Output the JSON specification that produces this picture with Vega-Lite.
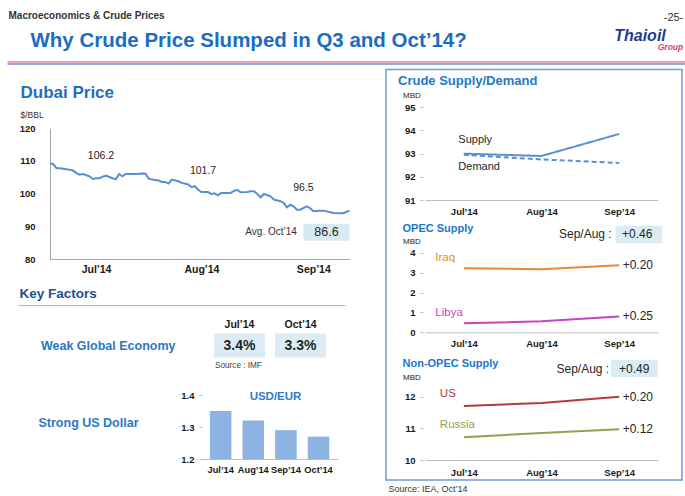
{
  "$schema": "https://vega.github.io/schema/vega-lite/v6.json",
  "width": 685,
  "height": 496,
  "autosize": "none",
  "padding": 0,
  "background": "white",
  "config": {
    "font": "Liberation Sans",
    "view": {"stroke": null},
    "axis": {"grid": false, "labelFont": "Liberation Sans", "titleFont": "Liberation Sans", "labelFlush": false, "labelOverlap": false, "titleLimit": 1000, "labelLimit": 400}
  },
  "resolve": {
    "scale": {"x": "independent", "y": "independent", "color": "independent", "strokeDash": "independent"},
    "axis": {"x": "independent", "y": "independent"}
  },
  "layer": [
    {
      "data": {"values": []},
      "mark": {"type": "point", "opacity": 0},
      "encoding": {
        "x": {"field": "hx", "type": "quantitative", "scale": {"domain": [0, 1], "range": [7, 685]},
          "axis": {"orient": "top", "offset": -61.5, "domain": true, "domainColor": "#e7a6bd", "domainWidth": 2, "labels": false, "ticks": false,
            "title": "Why Crude Price Slumped in Q3 and Oct’14?", "titleX": 30, "titleY": -21.5, "titleAlign": "left", "titleBaseline": "middle", "titleFontSize": 20.5, "titleFontWeight": "bold", "titleColor": "#1c6dc1"}},
        "y": {"field": "hy", "type": "quantitative", "scale": {"domain": [0, 1], "range": [60, 0]},
          "axis": {"orient": "left", "offset": 0, "domain": false, "labels": false, "ticks": false,
            "title": "Macroeconomics & Crude Prices", "titleAngle": 0, "titleX": 8, "titleY": 15, "titleAlign": "left", "titleBaseline": "middle", "titleFontSize": 10, "titleFontWeight": "bold", "titleColor": "#333333"}}
      }
    },
    {
      "data": {"values": []},
      "mark": {"type": "point", "opacity": 0},
      "encoding": {
        "x": {"field": "lx", "type": "quantitative", "scale": {"domain": [0, 1], "range": [7, 685]},
          "axis": {"orient": "top", "offset": -63.5, "domain": true, "domainColor": "#93acd9", "domainWidth": 2, "labels": false, "ticks": false,
            "title": "-25-", "titleX": 673, "titleY": -46.5, "titleAlign": "center", "titleBaseline": "middle", "titleFontSize": 11, "titleFontWeight": "normal", "titleColor": "#333333"}},
        "y": {"field": "ly", "type": "quantitative", "scale": {"domain": [0, 1], "range": [60, 0]},
          "axis": {"orient": "left", "offset": 0, "domain": false, "labels": false, "ticks": false,
            "title": "Thaioil", "titleAngle": 0, "titleX": 639.5, "titleY": 35, "titleAlign": "center", "titleBaseline": "middle", "titleFontSize": 16, "titleFontWeight": "bold", "titleFontStyle": "italic", "titleColor": "#1f3d8e"}}
      }
    },
    {
      "data": {"values": []},
      "mark": {"type": "point", "opacity": 0},
      "encoding": {
        "x": {"field": "kx", "type": "quantitative", "scale": {"domain": [0, 1], "range": [18, 345]},
          "axis": {"orient": "top", "offset": -305, "domain": true, "domainColor": "#a9b5c8", "domainWidth": 1, "labels": false, "ticks": false,
            "title": "Key Factors", "titleX": 19, "titleY": -12, "titleAlign": "left", "titleBaseline": "middle", "titleFontSize": 13.5, "titleFontWeight": "bold", "titleColor": "#234f8c"}},
        "y": {"field": "ky", "type": "quantitative", "scale": {"domain": [0, 1], "range": [60, 0]},
          "axis": {"orient": "left", "offset": 0, "domain": false, "labels": false, "ticks": false,
            "title": "Group", "titleAngle": 0, "titleX": 670, "titleY": 46, "titleAlign": "center", "titleBaseline": "middle", "titleFontSize": 8.5, "titleFontWeight": "bold", "titleFontStyle": "italic", "titleColor": "#d1417d"}}
      }
    },
    {
      "layer": [
        {
          "data": {"values": [
            {"date": "2014-07-01", "price": 109.3}, {"date": "2014-07-02", "price": 109.0}, {"date": "2014-07-03", "price": 107.8},
            {"date": "2014-07-04", "price": 107.8}, {"date": "2014-07-06", "price": 107.5}, {"date": "2014-07-08", "price": 107.1},
            {"date": "2014-07-09", "price": 106.3}, {"date": "2014-07-10", "price": 105.8}, {"date": "2014-07-11", "price": 106.0},
            {"date": "2014-07-13", "price": 105.3}, {"date": "2014-07-14", "price": 104.5}, {"date": "2014-07-15", "price": 104.7},
            {"date": "2014-07-16", "price": 104.7}, {"date": "2014-07-17", "price": 105.2}, {"date": "2014-07-18", "price": 105.5},
            {"date": "2014-07-20", "price": 104.7}, {"date": "2014-07-21", "price": 104.4}, {"date": "2014-07-22", "price": 106.0},
            {"date": "2014-07-23", "price": 105.3}, {"date": "2014-07-24", "price": 106.0}, {"date": "2014-07-25", "price": 106.0},
            {"date": "2014-07-27", "price": 106.0}, {"date": "2014-07-29", "price": 106.2}, {"date": "2014-07-30", "price": 106.1},
            {"date": "2014-07-31", "price": 104.6}, {"date": "2014-08-01", "price": 104.3}, {"date": "2014-08-03", "price": 104.0},
            {"date": "2014-08-04", "price": 103.6}, {"date": "2014-08-05", "price": 103.6}, {"date": "2014-08-06", "price": 103.1},
            {"date": "2014-08-07", "price": 104.3}, {"date": "2014-08-09", "price": 103.8}, {"date": "2014-08-10", "price": 103.3},
            {"date": "2014-08-12", "price": 102.8}, {"date": "2014-08-13", "price": 102.0}, {"date": "2014-08-14", "price": 102.3},
            {"date": "2014-08-15", "price": 101.2}, {"date": "2014-08-16", "price": 100.5}, {"date": "2014-08-17", "price": 100.5},
            {"date": "2014-08-18", "price": 100.5}, {"date": "2014-08-19", "price": 99.9}, {"date": "2014-08-20", "price": 100.1},
            {"date": "2014-08-21", "price": 99.5}, {"date": "2014-08-22", "price": 100.2}, {"date": "2014-08-24", "price": 100.2},
            {"date": "2014-08-25", "price": 100.3}, {"date": "2014-08-26", "price": 100.9}, {"date": "2014-08-27", "price": 101.1},
            {"date": "2014-08-28", "price": 100.4}, {"date": "2014-08-30", "price": 100.5}, {"date": "2014-08-31", "price": 100.7},
            {"date": "2014-09-01", "price": 100.7}, {"date": "2014-09-02", "price": 99.9}, {"date": "2014-09-03", "price": 98.9},
            {"date": "2014-09-04", "price": 99.9}, {"date": "2014-09-06", "price": 99.2}, {"date": "2014-09-07", "price": 98.2},
            {"date": "2014-09-09", "price": 97.7}, {"date": "2014-09-10", "price": 97.2}, {"date": "2014-09-11", "price": 95.8},
            {"date": "2014-09-12", "price": 96.6}, {"date": "2014-09-13", "price": 96.1}, {"date": "2014-09-14", "price": 95.1},
            {"date": "2014-09-15", "price": 95.1}, {"date": "2014-09-17", "price": 96.1}, {"date": "2014-09-18", "price": 95.6},
            {"date": "2014-09-19", "price": 94.6}, {"date": "2014-09-21", "price": 94.8}, {"date": "2014-09-22", "price": 94.8},
            {"date": "2014-09-24", "price": 94.4}, {"date": "2014-09-25", "price": 94.1}, {"date": "2014-09-27", "price": 94.0},
            {"date": "2014-09-28", "price": 94.0}, {"date": "2014-09-29", "price": 94.4}, {"date": "2014-09-30", "price": 94.8}
          ]},
          "mark": {"type": "line", "color": "#5a8ed2", "strokeWidth": 2},
          "encoding": {
            "x": {"field": "date", "type": "temporal",
              "scale": {"domain": [{"year": 2014, "month": 7, "date": 1, "utc": true}, {"year": 2014, "month": 9, "date": 30, "utc": true}], "range": [50, 349.5]},
              "axis": {"orient": "bottom", "offset": -237,
                "values": [{"year": 2014, "month": 7, "date": 15, "utc": true}, {"year": 2014, "month": 8, "date": 16, "utc": true}, {"year": 2014, "month": 9, "date": 19, "utc": true}],
                "format": "%b’%y", "domainColor": "#a6a6a6", "ticks": false, "labelPadding": 5, "labelFontSize": 10.5, "labelFontWeight": "bold", "labelColor": "#1a1a1a",
                "title": "Dubai Price", "titleX": 20, "titleY": -167, "titleAlign": "left", "titleBaseline": "middle", "titleFontSize": 17, "titleFontWeight": "bold", "titleColor": "#1f6fbf"}},
            "y": {"field": "price", "type": "quantitative",
              "scale": {"domain": [80, 120], "range": [259, 128.3], "zero": false, "nice": false},
              "axis": {"orient": "left", "offset": -50, "values": [80, 90, 100, 110, 120], "format": ".0f", "domainColor": "#a6a6a6", "ticks": false, "labelPadding": 15, "labelFontSize": 9.5, "labelFontWeight": "bold", "labelColor": "#1a1a1a",
                "title": "$/BBL", "titleAngle": 0, "titleX": -30, "titleY": 114, "titleAlign": "left", "titleBaseline": "middle", "titleFontSize": 8.5, "titleFontWeight": "normal", "titleColor": "#333333"}}
          }
        },
        {
          "data": {"values": [
            {"month": "2014-07-15", "avg": 106.2},
            {"month": "2014-08-15", "avg": 101.7},
            {"month": "2014-09-15", "avg": 96.5}
          ]},
          "mark": {"type": "text", "fontSize": 10.5, "color": "#262626", "dy": -17, "baseline": "middle"},
          "encoding": {
            "x": {"field": "month", "type": "temporal", "timeUnit": "yearmonth", "bandPosition": 0.5},
            "y": {"field": "avg", "type": "quantitative"},
            "text": {"field": "avg", "type": "quantitative", "format": ".1f"}
          }
        },
        {
          "data": {"values": [{"label": "Avg. Oct’14", "avg": 86.6}]},
          "layer": [
            {
              "mark": {"type": "rect", "color": "#d8e9f3"},
              "encoding": {
                "x": {"datum": {"year": 2014, "month": 9, "date": 16, "utc": true}, "type": "temporal"},
                "x2": {"datum": {"year": 2014, "month": 9, "date": 30, "utc": true}},
                "y": {"datum": 90.8, "type": "quantitative"},
                "y2": {"datum": 85.6}
              }
            },
            {
              "mark": {"type": "text", "fontSize": 12.5, "color": "#262626", "baseline": "middle"},
              "encoding": {
                "x": {"datum": {"year": 2014, "month": 9, "date": 23, "utc": true}, "type": "temporal"},
                "y": {"datum": 88.2, "type": "quantitative"},
                "text": {"field": "avg", "type": "quantitative", "format": ".1f"}
              }
            },
            {
              "mark": {"type": "text", "fontSize": 10, "color": "#333333", "align": "right", "baseline": "middle"},
              "encoding": {
                "x": {"datum": {"year": 2014, "month": 9, "date": 14, "utc": true}, "type": "temporal"},
                "y": {"datum": 88.2, "type": "quantitative"},
                "text": {"field": "label"}
              }
            }
          ]
        }
      ]
    },
    {
      "data": {"values": [
        {"factor": "Weak Global Economy", "period": "Jul’14", "growth": 0.034, "source": "Source : IMF"},
        {"factor": "Weak Global Economy", "period": "Oct’14", "growth": 0.033, "source": ""}
      ]},
      "layer": [
        {
          "mark": {"type": "rect", "color": "#dcecf5"},
          "encoding": {
            "x": {"field": "period", "type": "nominal", "sort": null,
              "scale": {"type": "band", "domain": ["Jul’14", "Oct’14"], "range": [214, 326], "paddingInner": 0.165, "paddingOuter": 0},
              "axis": {"orient": "top", "offset": -333.5, "domain": false, "ticks": false, "labelPadding": 4, "labelAngle": 0, "labelFontSize": 10.5, "labelFontWeight": "bold", "labelColor": "#1a1a1a", "title": null}},
            "y": {"field": "factor", "type": "nominal",
              "scale": {"type": "band", "domain": ["Weak Global Economy"], "range": [333.5, 357.5], "paddingInner": 0, "paddingOuter": 0},
              "axis": {"orient": "left", "offset": -214, "domain": false, "ticks": false, "labelPadding": 39, "labelFontSize": 12.5, "labelFontWeight": "bold", "labelColor": "#2a78c8", "title": null}}
          }
        },
        {
          "mark": {"type": "text", "fontSize": 14, "fontWeight": "bold", "color": "#262626", "baseline": "middle"},
          "encoding": {
            "x": {"field": "period", "type": "nominal"},
            "y": {"field": "factor", "type": "nominal"},
            "text": {"field": "growth", "type": "quantitative", "format": ".1%"}
          }
        },
        {
          "mark": {"type": "text", "fontSize": 8.2, "color": "#404040", "align": "left", "baseline": "middle", "dx": 1, "dy": 8},
          "encoding": {
            "x": {"field": "period", "type": "nominal", "bandPosition": 0},
            "y": {"field": "factor", "type": "nominal", "bandPosition": 1},
            "text": {"field": "source"}
          }
        }
      ]
    },
    {
      "data": {"values": [
        {"month": "Jul’14", "usdeur": 1.35},
        {"month": "Aug’14", "usdeur": 1.32},
        {"month": "Sep’14", "usdeur": 1.29},
        {"month": "Oct’14", "usdeur": 1.27}
      ]},
      "mark": {"type": "bar", "color": "#8db3e2"},
      "encoding": {
        "x": {"field": "month", "type": "nominal", "sort": null,
          "scale": {"type": "band", "domain": ["Jul’14", "Aug’14", "Sep’14", "Oct’14"], "range": [201.7, 337.5], "paddingInner": 0.34, "paddingOuter": 0.25},
          "axis": {"orient": "bottom", "offset": -37, "domainColor": "#bfbfbf", "ticks": false, "labelPadding": 6, "labelAngle": 0, "labelFontSize": 9.3, "labelFontWeight": "bold", "labelColor": "#1a1a1a",
            "title": "USD/EUR", "titleX": 275, "titleY": -63, "titleAlign": "center", "titleBaseline": "middle", "titleFontSize": 11.5, "titleFontWeight": "bold", "titleColor": "#2e7bcf"}},
        "y": {"field": "usdeur", "type": "quantitative",
          "scale": {"domain": [1.2, 1.4], "range": [459, 395], "zero": false, "nice": false},
          "axis": {"orient": "left", "offset": -202, "values": [1.2, 1.3, 1.4], "format": ".1f", "domain": false, "ticks": true, "tickSize": 3, "tickColor": "#bfbfbf", "labelPadding": 5, "labelFontSize": 9.5, "labelFontWeight": "bold", "labelColor": "#1a1a1a",
            "title": "Strong US Dollar", "titleAngle": 0, "titleX": -164, "titleY": 422, "titleAlign": "left", "titleBaseline": "middle", "titleFontSize": 12.5, "titleFontWeight": "bold", "titleColor": "#2a78c8"}},
        "y2": {"datum": 1.2}
      }
    },
    {
      "data": {"values": [{"panel": "Crude Supply/Demand"}]},
      "mark": {"type": "rect", "filled": false, "color": "#6f9bd6", "strokeWidth": 1.5},
      "encoding": {
        "x": {"datum": 0, "type": "quantitative", "scale": {"domain": [0, 1], "range": [386, 682]},
          "axis": {"orient": "bottom", "offset": -16, "domain": false, "labels": false, "ticks": false,
            "title": "Source: IEA, Oct’14", "titleX": 388, "titleY": 8, "titleAlign": "left", "titleBaseline": "middle", "titleFontSize": 9, "titleFontWeight": "normal", "titleColor": "#333333"}},
        "x2": {"datum": 1},
        "y": {"datum": 0, "type": "quantitative", "scale": {"domain": [0, 1], "range": [480, 69.5]}, "axis": null},
        "y2": {"datum": 1}
      }
    },
    {
      "data": {"values": [
        {"series": "Supply", "month": "Jul’14", "mbd": 93.0},
        {"series": "Supply", "month": "Aug’14", "mbd": 92.9},
        {"series": "Supply", "month": "Sep’14", "mbd": 93.85},
        {"series": "Demand", "month": "Jul’14", "mbd": 92.95},
        {"series": "Demand", "month": "Aug’14", "mbd": 92.75},
        {"series": "Demand", "month": "Sep’14", "mbd": 92.6}
      ]},
      "layer": [
        {
          "mark": {"type": "line", "color": "#5b8fd0", "strokeWidth": 2},
          "encoding": {
            "x": {"field": "month", "type": "ordinal", "sort": ["Jul’14", "Aug’14", "Sep’14"],
              "scale": {"type": "point", "domain": ["Jul’14", "Aug’14", "Sep’14"], "range": [425, 658], "padding": 0.5},
              "axis": {"orient": "bottom", "offset": -296, "domainColor": "#bfbfbf", "ticks": false, "labelPadding": 6, "labelAngle": 0, "labelFontSize": 9.5, "labelFontWeight": "bold", "labelColor": "#1a1a1a",
                "title": "Crude Supply/Demand", "titleX": 397.5, "titleY": -120, "titleAlign": "left", "titleBaseline": "middle", "titleFontSize": 13, "titleFontWeight": "bold", "titleColor": "#2378c8"}},
            "y": {"field": "mbd", "type": "quantitative",
              "scale": {"domain": [91, 95], "range": [200, 107.3], "zero": false, "nice": false},
              "axis": {"orient": "left", "offset": -423, "values": [91, 92, 93, 94, 95], "format": ".0f", "domain": false, "ticks": true, "tickSize": 3, "tickColor": "#bfbfbf", "labelPadding": 5, "labelFontSize": 9.5, "labelFontWeight": "bold", "labelColor": "#1a1a1a",
                "title": "MBD", "titleAngle": 0, "titleX": -20.5, "titleY": 95.5, "titleAlign": "left", "titleBaseline": "middle", "titleFontSize": 8, "titleFontWeight": "normal", "titleColor": "#262626"}},
            "strokeDash": {"field": "series", "type": "nominal", "scale": {"domain": ["Supply", "Demand"], "range": [[1, 0], [5, 3]]}, "legend": null}
          }
        },
        {
          "transform": [{"filter": "datum.month == 'Jul’14' && datum.series == 'Supply'"}],
          "mark": {"type": "text", "align": "left", "baseline": "middle", "dx": -5.5, "dy": -13.6, "fontSize": 11, "color": "#262626"},
          "encoding": {
            "x": {"field": "month", "type": "ordinal"},
            "y": {"field": "mbd", "type": "quantitative"},
            "text": {"field": "series"}
          }
        },
        {
          "transform": [{"filter": "datum.month == 'Jul’14' && datum.series == 'Demand'"}],
          "mark": {"type": "text", "align": "left", "baseline": "middle", "dx": -5.5, "dy": 12.4, "fontSize": 11, "color": "#262626"},
          "encoding": {
            "x": {"field": "month", "type": "ordinal"},
            "y": {"field": "mbd", "type": "quantitative"},
            "text": {"field": "series"}
          }
        }
      ]
    },
    {
      "layer": [
        {
          "data": {"values": [
            {"country": "Iraq", "month": "Jul’14", "mbd": 3.22, "sepAug": "+0.20"},
            {"country": "Iraq", "month": "Aug’14", "mbd": 3.17, "sepAug": "+0.20"},
            {"country": "Iraq", "month": "Sep’14", "mbd": 3.37, "sepAug": "+0.20"},
            {"country": "Libya", "month": "Jul’14", "mbd": 0.45, "sepAug": "+0.25"},
            {"country": "Libya", "month": "Aug’14", "mbd": 0.55, "sepAug": "+0.25"},
            {"country": "Libya", "month": "Sep’14", "mbd": 0.80, "sepAug": "+0.25"}
          ]},
          "layer": [
            {
              "mark": {"type": "line", "strokeWidth": 2},
              "encoding": {
                "x": {"field": "month", "type": "ordinal", "sort": ["Jul’14", "Aug’14", "Sep’14"],
                  "scale": {"type": "point", "domain": ["Jul’14", "Aug’14", "Sep’14"], "range": [425, 658], "padding": 0.5},
                  "axis": {"orient": "bottom", "offset": -163.7, "domainColor": "#bfbfbf", "ticks": false, "labelPadding": 6, "labelAngle": 0, "labelFontSize": 9.5, "labelFontWeight": "bold", "labelColor": "#1a1a1a",
                    "title": "OPEC Supply", "titleX": 402, "titleY": -103.3, "titleAlign": "left", "titleBaseline": "middle", "titleFontSize": 11, "titleFontWeight": "bold", "titleColor": "#1a78cc"}},
                "y": {"field": "mbd", "type": "quantitative",
                  "scale": {"domain": [0, 4], "range": [332.3, 252.7], "zero": false, "nice": false},
                  "axis": {"orient": "left", "offset": -423, "values": [0, 1, 2, 3, 4], "format": ".0f", "domain": false, "ticks": true, "tickSize": 3, "tickColor": "#bfbfbf", "labelPadding": 5, "labelFontSize": 9.5, "labelFontWeight": "bold", "labelColor": "#1a1a1a",
                    "title": "MBD", "titleAngle": 0, "titleX": -20.5, "titleY": 241.5, "titleAlign": "left", "titleBaseline": "middle", "titleFontSize": 8, "titleFontWeight": "normal", "titleColor": "#262626"}},
                "color": {"field": "country", "type": "nominal", "scale": {"domain": ["Iraq", "Libya"], "range": ["#e58a32", "#c845bf"]}, "legend": null}
              }
            },
            {
              "transform": [{"filter": "datum.month == 'Jul’14'"}],
              "mark": {"type": "text", "align": "left", "baseline": "middle", "dx": -28.5, "dy": -10, "fontSize": 11.5},
              "encoding": {
                "x": {"field": "month", "type": "ordinal"},
                "y": {"field": "mbd", "type": "quantitative"},
                "text": {"field": "country"},
                "color": {"field": "country", "type": "nominal", "legend": null}
              }
            },
            {
              "transform": [{"filter": "datum.month == 'Sep’14'"}],
              "mark": {"type": "text", "align": "left", "baseline": "middle", "dx": 3.5, "fontSize": 12, "color": "#262626"},
              "encoding": {
                "x": {"field": "month", "type": "ordinal"},
                "y": {"field": "mbd", "type": "quantitative"},
                "text": {"field": "sepAug"}
              }
            }
          ]
        },
        {
          "data": {"values": [{"label": "Sep/Aug :", "total": "+0.46"}]},
          "layer": [
            {
              "mark": {"type": "point", "filled": true, "opacity": 1, "color": "#dbedf4", "size": 2500, "shape": "M-0.14,-0.352H1.724V0.352H-0.14Z"},
              "encoding": {"x": {"datum": "Sep’14", "type": "ordinal"}, "y": {"datum": 4.915, "type": "quantitative"}}
            },
            {
              "mark": {"type": "text", "align": "right", "baseline": "middle", "dx": -7.5, "fontSize": 12, "color": "#262626"},
              "encoding": {"x": {"datum": "Sep’14", "type": "ordinal"}, "y": {"datum": 4.915, "type": "quantitative"}, "text": {"field": "label"}}
            },
            {
              "mark": {"type": "text", "align": "center", "baseline": "middle", "dx": 18, "fontSize": 12, "color": "#262626"},
              "encoding": {"x": {"datum": "Sep’14", "type": "ordinal"}, "y": {"datum": 4.915, "type": "quantitative"}, "text": {"field": "total"}}
            }
          ]
        }
      ]
    },
    {
      "layer": [
        {
          "data": {"values": [
            {"country": "US", "month": "Jul’14", "mbd": 11.71, "sepAug": "+0.20"},
            {"country": "US", "month": "Aug’14", "mbd": 11.80, "sepAug": "+0.20"},
            {"country": "US", "month": "Sep’14", "mbd": 12.00, "sepAug": "+0.20"},
            {"country": "Russia", "month": "Jul’14", "mbd": 10.72, "sepAug": "+0.12"},
            {"country": "Russia", "month": "Aug’14", "mbd": 10.85, "sepAug": "+0.12"},
            {"country": "Russia", "month": "Sep’14", "mbd": 10.97, "sepAug": "+0.12"}
          ]},
          "layer": [
            {
              "mark": {"type": "line", "strokeWidth": 2},
              "encoding": {
                "x": {"field": "month", "type": "ordinal", "sort": ["Jul’14", "Aug’14", "Sep’14"],
                  "scale": {"type": "point", "domain": ["Jul’14", "Aug’14", "Sep’14"], "range": [425, 658], "padding": 0.5},
                  "axis": {"orient": "bottom", "offset": -36, "domainColor": "#bfbfbf", "ticks": false, "labelPadding": 7, "labelAngle": 0, "labelFontSize": 9.5, "labelFontWeight": "bold", "labelColor": "#1a1a1a",
                    "title": "Non-OPEC Supply", "titleX": 402, "titleY": -97, "titleAlign": "left", "titleBaseline": "middle", "titleFontSize": 11, "titleFontWeight": "bold", "titleColor": "#1a78cc"}},
                "y": {"field": "mbd", "type": "quantitative",
                  "scale": {"domain": [10, 12], "range": [460, 396.7], "zero": false, "nice": false},
                  "axis": {"orient": "left", "offset": -423, "values": [10, 11, 12], "format": ".0f", "domain": false, "ticks": true, "tickSize": 3, "tickColor": "#bfbfbf", "labelPadding": 5, "labelFontSize": 9.5, "labelFontWeight": "bold", "labelColor": "#1a1a1a",
                    "title": "MBD", "titleAngle": 0, "titleX": -20.5, "titleY": 377, "titleAlign": "left", "titleBaseline": "middle", "titleFontSize": 8, "titleFontWeight": "normal", "titleColor": "#262626"}},
                "color": {"field": "country", "type": "nominal", "scale": {"domain": ["US", "Russia"], "range": ["#b23a3a", "#8aa552"]}, "legend": null}
              }
            },
            {
              "transform": [{"filter": "datum.month == 'Jul’14'"}],
              "mark": {"type": "text", "align": "left", "baseline": "middle", "dx": -24, "dy": -12, "fontSize": 11.5},
              "encoding": {
                "x": {"field": "month", "type": "ordinal"},
                "y": {"field": "mbd", "type": "quantitative"},
                "text": {"field": "country"},
                "color": {"field": "country", "type": "nominal", "legend": null}
              }
            },
            {
              "transform": [{"filter": "datum.month == 'Sep’14'"}],
              "mark": {"type": "text", "align": "left", "baseline": "middle", "dx": 3.5, "fontSize": 12, "color": "#262626"},
              "encoding": {
                "x": {"field": "month", "type": "ordinal"},
                "y": {"field": "mbd", "type": "quantitative"},
                "text": {"field": "sepAug"}
              }
            }
          ]
        },
        {
          "data": {"values": [{"label": "Sep/Aug :", "total": "+0.49"}]},
          "layer": [
            {
              "mark": {"type": "point", "filled": true, "opacity": 1, "color": "#dbedf4", "size": 2500, "shape": "M-0.33,-0.34H1.55V0.34H-0.33Z"},
              "encoding": {"x": {"datum": "Sep’14", "type": "ordinal"}, "y": {"datum": 12.89, "type": "quantitative"}}
            },
            {
              "mark": {"type": "text", "align": "right", "baseline": "middle", "dx": -10, "fontSize": 12, "color": "#262626"},
              "encoding": {"x": {"datum": "Sep’14", "type": "ordinal"}, "y": {"datum": 12.89, "type": "quantitative"}, "text": {"field": "label"}}
            },
            {
              "mark": {"type": "text", "align": "center", "baseline": "middle", "dx": 15, "fontSize": 12, "color": "#262626"},
              "encoding": {"x": {"datum": "Sep’14", "type": "ordinal"}, "y": {"datum": 12.89, "type": "quantitative"}, "text": {"field": "total"}}
            }
          ]
        }
      ]
    }
  ]
}
